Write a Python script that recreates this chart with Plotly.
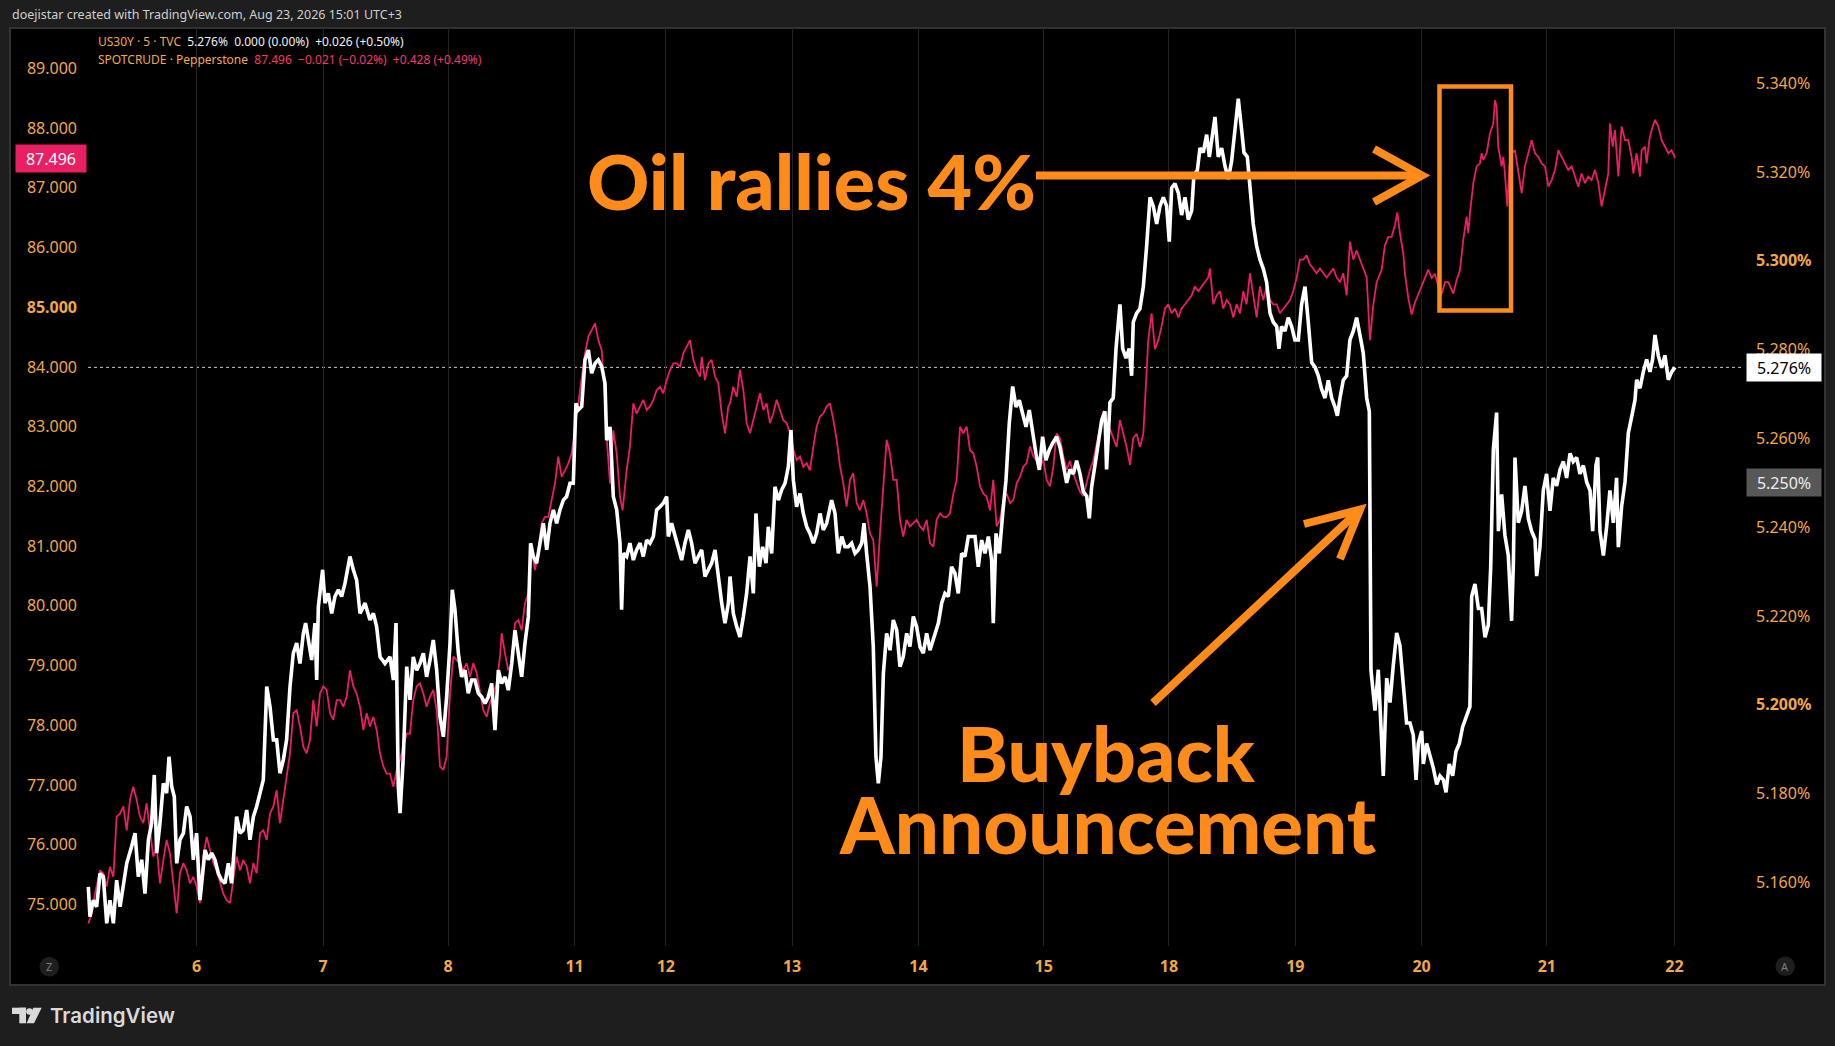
import plotly.graph_objects as go

# ---------------- data ----------------
day_labels = ["6", "7", "8", "11", "12", "13", "14", "15", "18", "19", "20", "21", "22"]
# position of each day label on the compressed (trading-session) time axis, in days
day_pos = [0.0, 1.004, 1.998, 3.002, 3.727, 4.730, 5.734, 6.729, 7.723, 8.727, 9.730, 10.725, 11.738]

oil_tick_vals = [75, 76, 77, 78, 79, 80, 81, 82, 83, 84, 85, 86, 87, 88, 89]
oil_tick_text = ["75.000", "76.000", "77.000", "78.000", "79.000", "80.000", "81.000", "82.000",
                 "83.000", "84.000", "<b>85.000</b>", "86.000", "87.000", "88.000", "89.000"]
yld_tick_vals = [5.16, 5.18, 5.20, 5.22, 5.24, 5.26, 5.28, 5.30, 5.32, 5.34]
yld_tick_text = ["5.160%", "5.180%", "<b>5.200%</b>", "5.220%", "5.240%", "5.260%", "5.280%",
                 "<b>5.300%</b>", "5.320%", "5.340%"]

us30y_last = 5.276
us30y_mark = 5.250
crude_last = 87.496

# US30Y (right scale, %) : (session time in days, yield)
us30y_pts = [
    (-0.860, 5.1590), (-0.847, 5.1523), (-0.820, 5.1560), (-0.794, 5.1545), (-0.767, 5.1620), (-0.741, 5.1613),
    (-0.714, 5.1508), (-0.688, 5.1560), (-0.661, 5.1508), (-0.635, 5.1605), (-0.608, 5.1545), (-0.582, 5.1598),
    (-0.555, 5.1643), (-0.516, 5.1681), (-0.489, 5.1711), (-0.463, 5.1613), (-0.436, 5.1651), (-0.410, 5.1575),
    (-0.383, 5.1696), (-0.357, 5.1733), (-0.336, 5.1842), (-0.317, 5.1666), (-0.291, 5.1733), (-0.264, 5.1823),
    (-0.238, 5.1801), (-0.219, 5.1883), (-0.198, 5.1816), (-0.177, 5.1793), (-0.158, 5.1643), (-0.132, 5.1696),
    (-0.105, 5.1711), (-0.079, 5.1771), (-0.052, 5.1748), (-0.026, 5.1651), (0.000, 5.1711), (0.027, 5.1560),
    (0.045, 5.1620), (0.067, 5.1673), (0.093, 5.1651), (0.120, 5.1666), (0.146, 5.1651), (0.173, 5.1620),
    (0.199, 5.1605), (0.226, 5.1598), (0.252, 5.1643), (0.278, 5.1598), (0.318, 5.1748), (0.345, 5.1711),
    (0.371, 5.1718), (0.398, 5.1763), (0.424, 5.1696), (0.451, 5.1748), (0.477, 5.1771), (0.504, 5.1801),
    (0.530, 5.1831), (0.557, 5.2041), (0.583, 5.1996), (0.610, 5.1921), (0.636, 5.1921), (0.662, 5.1846),
    (0.689, 5.1876), (0.715, 5.1921), (0.742, 5.2041), (0.768, 5.2116), (0.795, 5.2139), (0.821, 5.2093),
    (0.848, 5.2161), (0.866, 5.2184), (0.887, 5.2146), (0.914, 5.2101), (0.940, 5.2184), (0.954, 5.2056),
    (0.967, 5.2221), (1.001, 5.2304), (1.020, 5.2229), (1.046, 5.2251), (1.073, 5.2206), (1.099, 5.2244),
    (1.126, 5.2259), (1.152, 5.2244), (1.179, 5.2274), (1.205, 5.2311), (1.218, 5.2334), (1.245, 5.2304),
    (1.271, 5.2281), (1.298, 5.2206), (1.338, 5.2229), (1.377, 5.2191), (1.404, 5.2206), (1.430, 5.2176),
    (1.457, 5.2108), (1.496, 5.2093), (1.536, 5.2108), (1.563, 5.2056), (1.584, 5.2184), (1.602, 5.1816),
    (1.616, 5.1756), (1.642, 5.1883), (1.669, 5.2086), (1.695, 5.2011), (1.721, 5.2108),
    (1.748, 5.2078), (1.774, 5.2093), (1.801, 5.2116), (1.827, 5.2063), (1.854, 5.2101), (1.880, 5.2146),
    (1.907, 5.2078), (1.933, 5.1973), (1.960, 5.1928), (1.986, 5.2018), (2.013, 5.2138), (2.031, 5.2259),
    (2.052, 5.2214), (2.079, 5.2116), (2.105, 5.2063), (2.132, 5.2078), (2.158, 5.2026), (2.185, 5.2056),
    (2.211, 5.2056), (2.238, 5.2026), (2.264, 5.2018), (2.291, 5.2003), (2.317, 5.2018), (2.344, 5.2048),
    (2.370, 5.1943), (2.397, 5.2078), (2.423, 5.2048), (2.450, 5.2063), (2.476, 5.2033), (2.503, 5.2093),
    (2.529, 5.2168), (2.556, 5.2108), (2.582, 5.2063), (2.608, 5.2138), (2.635, 5.2198), (2.653, 5.2364),
    (2.675, 5.2334), (2.701, 5.2319), (2.728, 5.2364), (2.754, 5.2409), (2.781, 5.2349), (2.807, 5.2409),
    (2.834, 5.2439), (2.860, 5.2409), (2.886, 5.2439), (2.913, 5.2461), (2.939, 5.2469), (2.966, 5.2499),
    (2.992, 5.2499), (3.013, 5.2679), (3.032, 5.2664), (3.059, 5.2672), (3.085, 5.2777), (3.112, 5.2799),
    (3.138, 5.2747), (3.165, 5.2769), (3.191, 5.2777), (3.218, 5.2762), (3.244, 5.2724), (3.257, 5.2596),
    (3.284, 5.2626), (3.310, 5.2469), (3.337, 5.2439), (3.363, 5.2364), (3.376, 5.2214), (3.390, 5.2341),
    (3.416, 5.2334), (3.442, 5.2364), (3.469, 5.2326), (3.495, 5.2349), (3.522, 5.2364), (3.548, 5.2334),
    (3.575, 5.2371), (3.601, 5.2364), (3.628, 5.2379), (3.654, 5.2439), (3.681, 5.2446), (3.707, 5.2454),
    (3.734, 5.2469), (3.747, 5.2379), (3.773, 5.2409), (3.800, 5.2379), (3.826, 5.2349), (3.853, 5.2326),
    (3.879, 5.2364), (3.906, 5.2394), (3.932, 5.2364), (3.959, 5.2319), (3.985, 5.2334), (4.012, 5.2349),
    (4.038, 5.2289), (4.065, 5.2304), (4.091, 5.2319), (4.118, 5.2349), (4.144, 5.2289), (4.171, 5.2229),
    (4.197, 5.2184), (4.224, 5.2229),
    (4.237, 5.2289), (4.263, 5.2206), (4.290, 5.2176), (4.316, 5.2153), (4.343, 5.2199), (4.369, 5.2251),
    (4.396, 5.2334), (4.422, 5.2251), (4.443, 5.2431), (4.470, 5.2311), (4.496, 5.2356), (4.523, 5.2319),
    (4.541, 5.2401), (4.568, 5.2341), (4.594, 5.2491), (4.621, 5.2461), (4.647, 5.2484), (4.674, 5.2499),
    (4.700, 5.2536), (4.721, 5.2619), (4.740, 5.2506), (4.766, 5.2446), (4.793, 5.2476), (4.819, 5.2431),
    (4.846, 5.2401), (4.872, 5.2386), (4.899, 5.2364), (4.925, 5.2386), (4.952, 5.2431), (4.978, 5.2394),
    (5.005, 5.2409), (5.044, 5.2461), (5.071, 5.2431), (5.097, 5.2341), (5.124, 5.2379), (5.150, 5.2356),
    (5.177, 5.2356), (5.203, 5.2364), (5.230, 5.2341), (5.256, 5.2349), (5.283, 5.2364), (5.301, 5.2409),
    (5.322, 5.2341), (5.349, 5.2266), (5.375, 5.2131), (5.396, 5.1883), (5.415, 5.1823), (5.436, 5.1883),
    (5.455, 5.2071), (5.481, 5.2161), (5.508, 5.2123), (5.534, 5.2191), (5.561, 5.2168), (5.587, 5.2086),
    (5.613, 5.2108), (5.640, 5.2161), (5.666, 5.2131), (5.693, 5.2199), (5.719, 5.2176), (5.746, 5.2131),
    (5.772, 5.2116), (5.799, 5.2161), (5.825, 5.2123), (5.865, 5.2161), (5.892, 5.2184), (5.918, 5.2229),
    (5.944, 5.2251), (5.971, 5.2244), (5.997, 5.2311), (6.024, 5.2296), (6.050, 5.2251), (6.077, 5.2341),
    (6.103, 5.2334), (6.130, 5.2379), (6.156, 5.2379), (6.183, 5.2379), (6.209, 5.2311), (6.236, 5.2371),
    (6.262, 5.2341), (6.289, 5.2379), (6.315, 5.2326), (6.328, 5.2184), (6.350, 5.2386), (6.376, 5.2341),
    (6.403, 5.2431), (6.429, 5.2506), (6.455, 5.2634), (6.482, 5.2717), (6.508, 5.2671), (6.535, 5.2686),
    (6.561, 5.2656), (6.588, 5.2626), (6.614, 5.2664), (6.641, 5.2611), (6.667, 5.2566), (6.694, 5.2529),
    (6.720, 5.2604), (6.746, 5.2551), (6.773, 5.2574), (6.799, 5.2589), (6.831, 5.2604),
    (6.858, 5.2580), (6.884, 5.2540), (6.911, 5.2500), (6.937, 5.2530), (6.964, 5.2520), (6.990, 5.2550),
    (7.017, 5.2520), (7.043, 5.2480), (7.070, 5.2470), (7.091, 5.2420), (7.109, 5.2490), (7.136, 5.2540),
    (7.162, 5.2590), (7.189, 5.2641), (7.215, 5.2661), (7.228, 5.2530), (7.255, 5.2681), (7.281, 5.2691),
    (7.303, 5.2802), (7.321, 5.2862), (7.334, 5.2902), (7.356, 5.2802), (7.382, 5.2781), (7.408, 5.2802),
    (7.427, 5.2741), (7.440, 5.2862), (7.467, 5.2882), (7.493, 5.2892), (7.520, 5.2942), (7.546, 5.3033),
    (7.559, 5.3103), (7.573, 5.3143), (7.599, 5.3123), (7.626, 5.3083), (7.652, 5.3123), (7.679, 5.3143),
    (7.705, 5.3123), (7.726, 5.3043), (7.745, 5.3164), (7.771, 5.3174), (7.798, 5.3153), (7.824, 5.3103),
    (7.851, 5.3143), (7.877, 5.3093), (7.904, 5.3113), (7.922, 5.3194), (7.949, 5.3204), (7.970, 5.3254),
    (7.996, 5.3244), (8.023, 5.3284), (8.044, 5.3234), (8.076, 5.3304), (8.089, 5.3324), (8.115, 5.3234),
    (8.142, 5.3254), (8.168, 5.3214), (8.195, 5.3184), (8.221, 5.3224), (8.248, 5.3294), (8.274, 5.3365),
    (8.301, 5.3294), (8.319, 5.3244), (8.346, 5.3234), (8.367, 5.3174), (8.393, 5.3083), (8.420, 5.3033),
    (8.446, 5.3003), (8.473, 5.2982), (8.499, 5.2952), (8.526, 5.2882), (8.552, 5.2862), (8.579, 5.2852),
    (8.597, 5.2802), (8.618, 5.2852), (8.645, 5.2842), (8.671, 5.2872), (8.698, 5.2852), (8.724, 5.2822),
    (8.751, 5.2822), (8.777, 5.2902), (8.804, 5.2942), (8.830, 5.2862), (8.857, 5.2771), (8.883, 5.2761),
    (8.910, 5.2741), (8.936, 5.2711), (8.963, 5.2691), (8.989, 5.2731), (9.016, 5.2691), (9.042, 5.2671),
    (9.061, 5.2651), (9.082, 5.2691), (9.108, 5.2731), (9.135, 5.2741), (9.161, 5.2822), (9.188, 5.2842),
    (9.214, 5.2872), (9.241, 5.2832), (9.267, 5.2792), (9.294, 5.2691), (9.315, 5.2661), (9.328, 5.2078),
    (9.360, 5.1987), (9.386, 5.2079), (9.413, 5.1895), (9.426, 5.1840), (9.453, 5.2060), (9.479, 5.2005),
    (9.505, 5.2088), (9.532, 5.2162), (9.558, 5.2134), (9.585, 5.2033), (9.611, 5.1959), (9.638, 5.1959),
    (9.664, 5.1932), (9.686, 5.1831), (9.704, 5.1913), (9.731, 5.1941), (9.744, 5.1867), (9.770, 5.1913),
    (9.797, 5.1886), (9.823, 5.1858), (9.850, 5.1821), (9.876, 5.1840), (9.903, 5.1831), (9.924, 5.1803),
    (9.950, 5.1867), (9.977, 5.1840), (10.003, 5.1895), (10.030, 5.1913), (10.056, 5.1950), (10.088, 5.1978),
    (10.114, 5.1996), (10.128, 5.2244), (10.154, 5.2272), (10.181, 5.2217), (10.207, 5.2217), (10.234, 5.2152),
    (10.260, 5.2180), (10.279, 5.2309), (10.300, 5.2575), (10.326, 5.2658), (10.340, 5.2391), (10.366, 5.2474),
    (10.392, 5.2382), (10.419, 5.2336), (10.445, 5.2189), (10.459, 5.2318), (10.472, 5.2557), (10.498, 5.2410),
    (10.525, 5.2437), (10.551, 5.2493), (10.578, 5.2419), (10.604, 5.2391), (10.631, 5.2373), (10.644, 5.2290),
    (10.670, 5.2355), (10.697, 5.2483), (10.723, 5.2520), (10.750, 5.2437), (10.776, 5.2511), (10.803, 5.2493),
    (10.829, 5.2529), (10.856, 5.2548), (10.882, 5.2511), (10.909, 5.2566), (10.935, 5.2548), (10.962, 5.2557),
    (10.988, 5.2520), (11.015, 5.2539), (11.041, 5.2502), (11.068, 5.2483), (11.089, 5.2391), (11.115, 5.2539),
    (11.129, 5.2557), (11.147, 5.2391), (11.174, 5.2336), (11.200, 5.2401), (11.226, 5.2483), (11.253, 5.2410),
    (11.279, 5.2511), (11.293, 5.2355), (11.319, 5.2447), (11.346, 5.2502), (11.372, 5.2612), (11.399, 5.2649),
    (11.425, 5.2686), (11.438, 5.2732), (11.465, 5.2713), (11.491, 5.2750), (11.518, 5.2778), (11.544, 5.2750),
    (11.565, 5.2778), (11.584, 5.2833), (11.610, 5.2787), (11.637, 5.2759), (11.663, 5.2787), (11.690, 5.2732),
    (11.716, 5.2750), (11.743, 5.2760),
]

# SPOTCRUDE (left scale, USD) : (session time in days, price)
crude_pts = [
    (-0.860, 74.68), (-0.833, 74.85), (-0.807, 75.18), (-0.767, 75.57), (-0.741, 75.52), (-0.714, 75.30),
    (-0.688, 75.63), (-0.661, 75.46), (-0.635, 76.47), (-0.608, 76.52), (-0.582, 76.64), (-0.555, 76.24),
    (-0.529, 76.75), (-0.503, 76.97), (-0.476, 76.75), (-0.450, 76.47), (-0.423, 76.36), (-0.397, 76.69),
    (-0.370, 76.24), (-0.344, 75.80), (-0.317, 75.97), (-0.291, 75.35), (-0.264, 75.74), (-0.238, 76.08),
    (-0.211, 75.85), (-0.185, 75.35), (-0.158, 74.85), (-0.132, 75.52), (-0.105, 75.69), (-0.079, 75.57),
    (-0.052, 75.35), (-0.026, 75.46), (0.000, 75.30), (0.027, 75.02), (0.053, 75.80), (0.080, 76.13),
    (0.106, 75.91), (0.133, 75.69), (0.159, 75.57), (0.186, 75.35), (0.212, 75.18), (0.239, 75.07),
    (0.265, 75.02), (0.292, 75.41), (0.318, 75.80), (0.345, 75.57), (0.371, 75.74), (0.398, 75.63),
    (0.424, 75.35), (0.451, 75.69), (0.477, 75.52), (0.504, 76.19), (0.530, 76.24), (0.557, 76.08),
    (0.583, 76.52), (0.610, 76.64), (0.636, 76.91), (0.662, 76.36), (0.689, 76.75), (0.715, 77.08),
    (0.742, 77.53), (0.768, 78.20), (0.795, 78.25), (0.821, 77.98), (0.848, 77.64), (0.874, 77.53),
    (0.901, 77.75), (0.927, 78.42), (0.954, 77.98), (0.980, 78.53), (1.007, 78.65), (1.033, 78.59),
    (1.060, 78.20), (1.086, 78.09), (1.113, 78.42), (1.139, 78.42), (1.166, 78.31), (1.192, 78.48),
    (1.218, 78.92), (1.245, 78.65), (1.271, 78.53), (1.298, 78.31), (1.324, 77.92), (1.351, 78.20),
    (1.377, 77.98), (1.404, 78.14), (1.430, 77.92), (1.457, 77.53), (1.483, 77.31), (1.510, 77.19),
    (1.536, 77.19), (1.563, 76.97), (1.589, 77.25), (1.616, 77.42), (1.642, 77.64), (1.669, 77.86),
    (1.695, 77.86), (1.721, 78.42),
    (1.748, 78.65), (1.774, 78.70), (1.801, 78.53), (1.827, 78.31), (1.854, 78.48), (1.880, 78.59),
    (1.907, 78.25), (1.933, 77.31), (1.960, 77.25), (1.986, 77.47), (2.013, 78.53), (2.039, 79.15),
    (2.066, 79.09), (2.092, 79.04), (2.119, 78.92), (2.145, 79.04), (2.172, 78.81), (2.198, 79.04),
    (2.225, 78.87), (2.251, 78.59), (2.278, 78.25), (2.304, 78.14), (2.330, 78.37), (2.357, 78.53),
    (2.383, 78.70), (2.410, 79.15), (2.423, 79.54), (2.450, 79.20), (2.476, 78.92), (2.503, 79.04),
    (2.529, 79.71), (2.556, 79.76), (2.582, 79.59), (2.608, 80.04), (2.635, 80.21), (2.661, 80.93),
    (2.688, 80.60), (2.714, 80.93), (2.741, 81.38), (2.767, 81.49), (2.794, 81.49), (2.820, 81.77),
    (2.847, 82.05), (2.873, 82.50), (2.900, 82.16), (2.926, 82.27), (2.953, 82.39), (2.979, 82.55),
    (3.006, 83.00), (3.032, 83.39), (3.059, 83.89), (3.085, 84.23), (3.112, 84.51), (3.138, 84.62),
    (3.165, 84.73), (3.191, 84.45), (3.218, 84.28), (3.244, 83.45), (3.257, 82.83), (3.284, 82.05),
    (3.310, 82.94), (3.337, 82.55), (3.363, 81.83), (3.384, 81.60), (3.416, 82.27), (3.442, 82.67),
    (3.469, 83.39), (3.495, 83.22), (3.522, 83.34), (3.548, 83.45), (3.575, 83.28), (3.601, 83.34),
    (3.628, 83.45), (3.654, 83.61), (3.681, 83.67), (3.707, 83.56), (3.734, 83.78), (3.760, 83.95),
    (3.787, 84.06), (3.813, 84.06), (3.840, 84.01), (3.866, 84.23), (3.893, 84.34), (3.919, 84.45),
    (3.946, 84.12), (3.972, 83.95), (3.999, 83.84), (4.012, 84.17), (4.038, 83.78), (4.065, 84.06),
    (4.091, 84.12), (4.118, 83.84), (4.144, 83.73), (4.171, 83.22), (4.197, 82.89), (4.224, 83.34),
    (4.237, 83.39), (4.263, 83.67), (4.290, 83.50), (4.316, 83.95), (4.343, 83.61), (4.369, 83.06),
    (4.396, 82.89), (4.422, 83.11), (4.449, 83.39), (4.475, 83.56), (4.502, 83.28), (4.528, 83.39),
    (4.554, 83.06), (4.581, 83.22), (4.607, 83.45), (4.634, 83.28), (4.660, 83.11), (4.687, 83.06),
    (4.713, 82.89), (4.740, 82.61), (4.766, 82.44), (4.793, 82.50), (4.819, 82.33), (4.846, 82.39),
    (4.872, 82.27), (4.899, 82.67), (4.925, 83.00), (4.952, 83.17), (4.978, 83.22), (5.005, 83.34),
    (5.031, 83.39), (5.058, 83.11), (5.084, 82.78), (5.111, 82.33), (5.137, 82.05), (5.163, 81.66),
    (5.190, 82.11), (5.216, 82.22), (5.243, 81.72), (5.269, 81.60), (5.296, 81.77), (5.322, 81.55),
    (5.349, 81.21), (5.375, 81.10), (5.402, 80.32), (5.428, 81.21), (5.455, 82.05), (5.481, 82.78),
    (5.508, 82.55), (5.534, 82.11), (5.561, 82.11), (5.587, 81.44), (5.613, 81.16), (5.640, 81.44),
    (5.666, 81.33), (5.693, 81.38), (5.719, 81.44), (5.746, 81.33), (5.772, 81.27), (5.799, 81.44),
    (5.825, 81.05), (5.852, 80.99), (5.878, 81.44), (5.905, 81.55), (5.931, 81.49), (5.958, 81.49),
    (5.984, 81.55), (6.011, 81.88), (6.037, 82.11), (6.064, 83.00), (6.090, 82.89), (6.117, 83.00),
    (6.143, 82.61), (6.170, 82.55), (6.196, 82.33), (6.223, 82.00), (6.249, 81.88), (6.275, 81.83),
    (6.302, 81.60), (6.328, 82.11), (6.355, 81.33), (6.381, 81.44), (6.408, 81.77), (6.434, 81.88),
    (6.461, 81.72), (6.487, 81.77), (6.514, 82.05), (6.540, 82.16), (6.567, 82.33), (6.593, 82.39),
    (6.620, 82.67), (6.646, 82.50), (6.673, 82.44), (6.699, 82.33), (6.726, 82.44), (6.752, 82.11),
    (6.779, 82.00), (6.805, 82.33), (6.831, 82.89),
    (6.858, 82.81), (6.884, 82.51), (6.911, 82.28), (6.937, 82.43), (6.964, 82.21), (6.990, 82.06),
    (7.017, 81.91), (7.043, 81.84), (7.070, 82.06), (7.096, 82.28), (7.122, 82.43), (7.149, 82.73),
    (7.175, 82.96), (7.202, 83.26), (7.228, 82.81), (7.255, 82.96), (7.281, 82.81), (7.308, 82.66),
    (7.334, 83.11), (7.361, 82.88), (7.387, 82.66), (7.414, 82.36), (7.440, 82.81), (7.467, 82.88),
    (7.493, 82.66), (7.520, 82.88), (7.541, 83.85), (7.559, 84.45), (7.586, 84.90), (7.612, 84.30),
    (7.639, 84.45), (7.665, 84.68), (7.692, 84.98), (7.718, 85.05), (7.745, 84.90), (7.771, 84.98),
    (7.798, 84.83), (7.824, 84.98), (7.851, 85.05), (7.877, 85.12), (7.904, 85.20), (7.930, 85.35),
    (7.957, 85.27), (7.983, 85.35), (8.009, 85.42), (8.036, 85.50), (8.049, 85.65), (8.076, 85.05),
    (8.102, 85.20), (8.129, 85.27), (8.155, 84.98), (8.182, 85.12), (8.208, 85.05), (8.235, 84.83),
    (8.261, 85.05), (8.288, 84.90), (8.314, 85.27), (8.340, 85.05), (8.367, 85.57), (8.393, 85.20),
    (8.420, 84.83), (8.446, 85.35), (8.473, 85.12), (8.499, 85.35), (8.526, 85.12), (8.552, 85.05),
    (8.579, 85.05), (8.605, 84.90), (8.632, 84.98), (8.658, 85.05), (8.685, 85.12), (8.711, 85.27),
    (8.738, 85.50), (8.764, 85.80), (8.790, 85.80), (8.817, 85.87), (8.843, 85.72), (8.870, 85.65),
    (8.896, 85.57), (8.923, 85.65), (8.949, 85.57), (8.976, 85.50), (9.002, 85.57), (9.029, 85.65),
    (9.055, 85.50), (9.082, 85.42), (9.108, 85.57), (9.135, 85.20), (9.161, 86.10), (9.188, 85.80),
    (9.214, 85.95), (9.241, 85.80), (9.267, 85.65), (9.294, 85.50), (9.320, 84.45), (9.347, 85.05),
    (9.373, 85.42), (9.400, 85.57),
    (9.413, 85.63), (9.439, 86.04), (9.466, 86.18), (9.492, 86.18), (9.519, 86.38), (9.537, 86.59),
    (9.558, 86.24), (9.585, 85.90), (9.598, 85.56), (9.625, 85.15), (9.651, 84.88), (9.678, 85.08),
    (9.704, 85.22), (9.731, 85.35), (9.757, 85.49), (9.783, 85.63), (9.810, 85.49), (9.836, 85.56),
    (9.863, 85.35), (9.889, 85.22), (9.916, 85.42), (9.942, 85.42), (9.982, 85.23), (10.009, 85.46),
    (10.035, 85.62), (10.061, 86.13), (10.088, 86.52), (10.101, 86.24), (10.114, 86.57), (10.141, 87.08),
    (10.167, 87.36), (10.194, 87.41), (10.207, 87.58), (10.220, 87.47), (10.247, 87.58), (10.273, 87.91),
    (10.300, 88.08), (10.313, 88.47), (10.326, 88.36), (10.339, 87.69), (10.366, 87.36), (10.379, 87.52),
    (10.392, 87.24), (10.411, 86.69), (10.427, 87.36), (10.445, 87.58), (10.472, 87.63), (10.498, 87.24),
    (10.525, 86.91), (10.551, 87.36), (10.578, 87.58), (10.604, 87.80), (10.631, 87.58), (10.657, 87.52),
    (10.684, 87.41), (10.710, 87.36), (10.737, 87.02), (10.763, 87.13), (10.790, 87.30), (10.816, 87.63),
    (10.842, 87.52), (10.869, 87.41), (10.895, 87.30), (10.922, 87.36), (10.948, 87.19), (10.975, 87.02),
    (11.001, 87.24), (11.028, 87.08), (11.054, 87.19), (11.081, 87.13), (11.107, 87.30), (11.134, 87.08),
    (11.160, 86.69), (11.187, 86.97), (11.213, 87.24), (11.226, 88.08), (11.248, 87.69), (11.266, 87.97),
    (11.293, 87.19), (11.319, 88.03), (11.346, 87.80), (11.372, 87.80), (11.398, 87.52), (11.412, 87.24),
    (11.438, 87.58), (11.465, 87.19), (11.478, 87.63), (11.504, 87.69), (11.518, 87.41), (11.539, 87.80),
    (11.557, 87.97), (11.584, 88.14), (11.610, 88.03), (11.637, 87.80), (11.663, 87.69), (11.690, 87.58),
    (11.716, 87.63), (11.743, 87.50),
]

# ---------------- styling ----------------
W, H = 1835, 1046
ML, MR, MT, MB = 85, 91, 28, 100
PW, PH = W - ML - MR, H - MT - MB

AXIS = "#f2a844"
ORANGE = "#ff8c1a"
PINK = "#e91e63"
BG = "#1e1e1e"
FONT = "Noto Sans, DejaVu Sans, sans-serif"
BIG = "Lato, Noto Sans, sans-serif"


def px(x):
    return (x - ML) / PW


def py(y):
    return 1 - (y - MT) / PH


fig = go.Figure()
cx, cy = zip(*crude_pts)
fig.add_trace(go.Scatter(x=list(cx), y=list(cy), mode="lines", yaxis="y",
                         line=dict(color=PINK, width=1.8), hoverinfo="skip", showlegend=False))
ux, uy = zip(*us30y_pts)
fig.add_trace(go.Scatter(x=list(ux), y=list(uy), mode="lines", yaxis="y2",
                         line=dict(color="#ffffff", width=3.6), hoverinfo="skip", showlegend=False))

shapes = [
    # chart panel
    dict(type="rect", xref="paper", yref="paper", x0=px(10), x1=px(1825), y0=py(28), y1=py(985),
         fillcolor="#000000", line=dict(color="#333333", width=2), layer="below"),
    # last-price dotted line of US30Y
    dict(type="line", xref="paper", yref="y2", x0=px(88), x1=1, y0=us30y_last, y1=us30y_last,
         line=dict(color="#c8c8c8", width=1, dash="dot"), layer="below"),
    # Z / A buttons
    dict(type="circle", xref="paper", yref="paper", x0=px(39.5), x1=px(59), y0=py(957), y1=py(976.5),
         fillcolor="#1e1e1e", line=dict(width=0)),
    dict(type="circle", xref="paper", yref="paper", x0=px(1775.5), x1=px(1795), y0=py(956.5), y1=py(976),
         fillcolor="#1e1e1e", line=dict(width=0)),
    # horizontal arrow
    dict(type="line", xref="paper", yref="paper", x0=px(1036), x1=px(1420), y0=py(175.5), y1=py(175.5),
         line=dict(color=ORANGE, width=8)),
    dict(type="path", xref="paper", yref="paper",
         path=f"M {px(1374)},{py(149)} L {px(1422)},{py(175.5)} L {px(1374)},{py(202)}",
         line=dict(color=ORANGE, width=8)),
    # highlight box
    dict(type="rect", xref="paper", yref="paper", x0=px(1439.5), x1=px(1511), y0=py(86.5), y1=py(310.5),
         line=dict(color=ORANGE, width=4.5)),
    # diagonal arrow
    dict(type="line", xref="paper", yref="paper", x0=px(1153), x1=px(1358), y0=py(703), y1=py(511.5),
         line=dict(color=ORANGE, width=8)),
    dict(type="path", xref="paper", yref="paper",
         path=f"M {px(1304)},{py(524)} L {px(1360)},{py(509.6)} L {px(1340)},{py(559)}",
         line=dict(color=ORANGE, width=8)),
    # TradingView logo
    dict(type="rect", xref="paper", yref="paper", x0=px(12), x1=px(26), y0=py(1007.7), y1=py(1014),
         fillcolor="#d9d9d9", line=dict(width=0)),
    dict(type="rect", xref="paper", yref="paper", x0=px(19.3), x1=px(26), y0=py(1007.7), y1=py(1023.3),
         fillcolor="#d9d9d9", line=dict(width=0)),
    dict(type="circle", xref="paper", yref="paper", x0=px(26.2), x1=px(32.8), y0=py(1008.2), y1=py(1014.8),
         fillcolor="#d9d9d9", line=dict(width=0)),
    dict(type="path", xref="paper", yref="paper",
         path=f"M {px(33.3)},{py(1007.7)} L {px(41.7)},{py(1007.7)} L {px(34)},{py(1023.3)} L {px(26.6)},{py(1023.3)} Z",
         fillcolor="#d9d9d9", line=dict(width=0)),
]

NB = "\u00a0"
annotations = [
    dict(xref="paper", yref="paper", x=px(10), y=py(15), xanchor="left", yanchor="middle", showarrow=False,
         text="doejistar created with TradingView.com, Aug 23, 2026 15:01 UTC+3",
         font=dict(family=FONT, size=12.5, color="#cfcfcf")),
    dict(xref="paper", yref="paper", x=px(96), y=py(41.7), xanchor="left", yanchor="middle", showarrow=False,
         text=f"<span style='color:{AXIS}'>US30Y · 5 · TVC</span>{NB}{NB}"
              f"<span style='color:#f0f0f0'>5.276%{NB}{NB}0.000 (0.00%){NB}{NB}+0.026 (+0.50%)</span>",
         font=dict(family=FONT, size=12)),
    dict(xref="paper", yref="paper", x=px(96), y=py(59.3), xanchor="left", yanchor="middle", showarrow=False,
         text=f"<span style='color:{AXIS}'>SPOTCRUDE · Pepperstone</span>{NB}{NB}"
              f"<span style='color:#f23a6e'>87.496{NB}{NB}−0.021 (−0.02%){NB}{NB}+0.428 (+0.49%)</span>",
         font=dict(family=FONT, size=12)),
    # price labels on the scales
    dict(xref="paper", yref="y", x=px(87), y=crude_last, xanchor="right", yanchor="middle", showarrow=False,
         text=f"{crude_last:.3f}", bgcolor=PINK, width=64, height=21, borderpad=3,
         font=dict(family=FONT, size=16, color="#ffffff")),
    dict(xref="paper", yref="y2", x=px(1746), y=us30y_last, xanchor="left", yanchor="middle", showarrow=False,
         text=f"{us30y_last:.3f}%", bgcolor="#ffffff", width=68, height=21, borderpad=3,
         font=dict(family=FONT, size=16, color="#000000")),
    dict(xref="paper", yref="y2", x=px(1746), y=us30y_mark, xanchor="left", yanchor="middle", showarrow=False,
         text=f"{us30y_mark:.3f}%", bgcolor="#585858", width=68, height=21, borderpad=3,
         font=dict(family=FONT, size=16, color="#ececec")),
    # Z / A letters
    dict(xref="paper", yref="paper", x=px(49.3), y=py(966.7), xanchor="center", yanchor="middle",
         showarrow=False, text="Z", font=dict(family=FONT, size=11, color="#7d7d7d")),
    dict(xref="paper", yref="paper", x=px(1785.3), y=py(966.2), xanchor="center", yanchor="middle",
         showarrow=False, text="A", font=dict(family=FONT, size=11, color="#7d7d7d")),
    # big call-outs
    dict(xref="paper", yref="paper", x=px(811), y=py(180), xanchor="center", yanchor="middle", showarrow=False,
         text="Oil rallies 4%", font=dict(family=BIG, size=77, color=ORANGE, weight=900)),
    dict(xref="paper", yref="paper", x=px(1106), y=py(752), xanchor="center", yanchor="middle", showarrow=False,
         text="Buyback", font=dict(family=BIG, size=77, color=ORANGE, weight=900)),
    dict(xref="paper", yref="paper", x=px(1108), y=py(824), xanchor="center", yanchor="middle", showarrow=False,
         text="Announcement", font=dict(family=BIG, size=78, color=ORANGE, weight=900)),
    # footer brand
    dict(xref="paper", yref="paper", x=px(48), y=py(1015), xanchor="left", yanchor="middle", showarrow=False,
         text="TradingView", font=dict(family="Inter, Noto Sans, sans-serif", size=20.5, color="#d9d9d9", weight=600)),
]

fig.update_layout(
    width=W, height=H, autosize=False,
    margin=dict(l=ML, r=MR, t=MT, b=MB, pad=0),
    paper_bgcolor=BG, plot_bgcolor="rgba(0,0,0,0)",
    showlegend=False, hovermode=False,
    font=dict(family=FONT, color=AXIS),
    xaxis=dict(range=[-0.8864, 12.291], tickmode="array", tickvals=day_pos, ticktext=day_labels,
               showgrid=True, gridcolor="#222222", gridwidth=1, zeroline=False, showline=False,
               ticks="", ticklabelstandoff=9, tickfont=dict(family=FONT, size=16, color=AXIS, weight="bold"),
               fixedrange=True),
    yaxis=dict(range=[74.302, 89.678], tickmode="array", tickvals=oil_tick_vals, ticktext=oil_tick_text,
               showgrid=False, zeroline=False, showline=False, ticks="", side="left",
               ticklabelstandoff=7, tickfont=dict(family=FONT, size=16, color=AXIS), fixedrange=True),
    yaxis2=dict(range=[5.14568, 5.35243], overlaying="y", side="right", tickmode="array",
                tickvals=yld_tick_vals, ticktext=yld_tick_text, showgrid=False, zeroline=False,
                showline=False, ticks="", ticklabelstandoff=11,
                tickfont=dict(family=FONT, size=16, color=AXIS), fixedrange=True),
    shapes=shapes,
    annotations=annotations,
)

fig.write_html("out.html", config={"displayModeBar": False, "staticPlot": True},
               post_script="document.body.style.margin='0';document.body.style.overflow='hidden';")
